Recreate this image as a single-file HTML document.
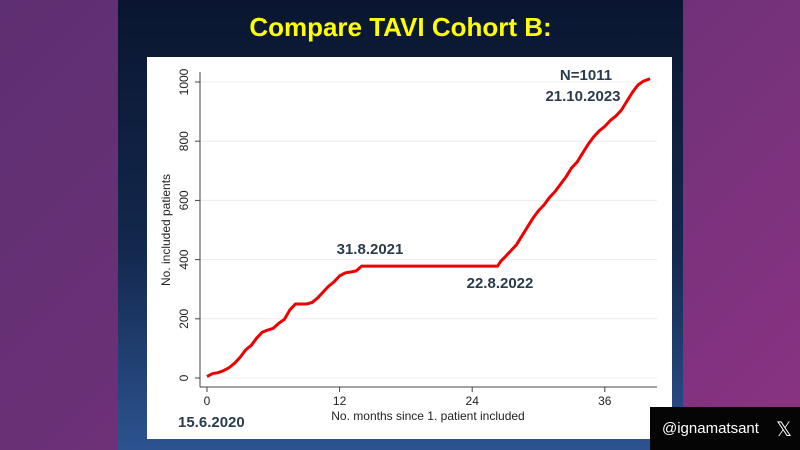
<!DOCTYPE html>
<html><head><meta charset="utf-8"><style>
body{margin:0;width:800px;height:450px;overflow:hidden;font-family:"Liberation Sans",sans-serif;}
#bg{position:absolute;left:0;top:0;width:800px;height:450px;background:linear-gradient(135deg,#5e2f72 0%,#6e3178 50%,#8a3383 100%);}
#navy{position:absolute;left:118px;top:0;width:565px;height:450px;background:linear-gradient(180deg,#0a1630 0%,#13284d 55%,#2c5390 100%);}
#title{position:absolute;left:118px;width:565px;top:12px;text-align:center;color:#ffff00;font-weight:bold;font-size:26px;}
#wm{position:absolute;left:650px;top:407px;width:150px;height:43px;background:#050505;color:#fff;font-size:15px;}
</style></head><body>
<div id="bg"></div>
<div id="navy"></div>
<div id="title">Compare TAVI Cohort B:</div>
<svg id="chart" width="800" height="450" style="position:absolute;left:0;top:0">
<rect x="147" y="57" width="525" height="382" fill="#fff"/>
<g id="grid"></g><g id="axes"></g><g id="series"></g>
<text x="370" y="254" text-anchor="middle" font-size="15" font-weight="bold" fill="#2a3b4e">31.8.2021</text>
<text x="500" y="288" text-anchor="middle" font-size="15" font-weight="bold" fill="#2a3b4e">22.8.2022</text>
<text x="586" y="80" text-anchor="middle" font-size="15" font-weight="bold" fill="#2a3b4e">N=1011</text>
<text x="583" y="101" text-anchor="middle" font-size="15" font-weight="bold" fill="#2a3b4e">21.10.2023</text>
<text x="178" y="427" font-size="15" font-weight="bold" fill="#2a3b4e">15.6.2020</text>
<text x="428" y="420" text-anchor="middle" font-size="12" fill="#222">No. months since 1. patient included</text>
<text transform="translate(170,230) rotate(-90)" text-anchor="middle" font-size="12" fill="#222">No. included patients</text>
</svg>
<div id="wm"><span style="position:absolute;left:12px;top:13px">@ignamatsant</span><span style="position:absolute;left:126px;top:10px;font-size:20px">𝕏</span></div>
<script>
const months=[0,0.5,1,1.5,2,2.5,3,3.5,4,4.5,5,5.5,6,6.5,7,7.5,8,8.5,9,9.5,10,10.5,11,11.5,12,12.5,13,13.5,14,20,26.3,26.6,27,27.5,28,28.5,29,29.5,30,30.5,31,31.5,32,32.5,33,33.5,34,34.5,35,35.5,36,36.5,37,37.5,38,38.5,39,39.5,40.1];
const patients=[5,15,18,25,35,50,70,95,110,135,155,162,168,185,198,230,250,250,250,255,270,290,310,325,345,355,358,362,378,378,378,395,410,430,450,480,510,540,565,585,610,630,655,680,710,730,760,790,815,835,850,870,885,905,935,965,990,1003,1011];
const xTicks=[0,12,24,36];
const yTicks=[0,200,400,600,800,1000];
const xs=m=>207+m*11.05, ys=v=>378-v*0.296;
const NS='http://www.w3.org/2000/svg';
function mk(t,a,p){const e=document.createElementNS(NS,t);for(const k in a)e.setAttribute(k,a[k]);p.appendChild(e);return e;}
const grid=document.getElementById('grid'),axes=document.getElementById('axes'),ser=document.getElementById('series');
yTicks.forEach(v=>{
 const g=mk('line',{x1:200,x2:657,y1:ys(v),y2:ys(v),stroke:'#ececec','stroke-width':1},grid);
 
 
 mk('line',{x1:195,x2:200,y1:ys(v),y2:ys(v),stroke:'#444'},axes);
 const t=mk('text',{transform:`translate(188,${ys(v)}) rotate(-90)`,'text-anchor':'middle','font-size':12,fill:'#222'},axes);
 t.textContent=v;
 
 
});
xTicks.forEach(m=>{
 mk('line',{x1:xs(m),x2:xs(m),y1:387,y2:392,stroke:'#444'},axes);
 const t=mk('text',{x:xs(m),y:405,'text-anchor':'middle','font-size':12,fill:'#222'},axes);
 t.textContent=m;
 
 
});
const ya=mk('line',{x1:200,x2:200,y1:72,y2:387,stroke:'#444'},axes);


const xa=mk('line',{x1:200,x2:657,y1:387,y2:387,stroke:'#444'},axes);


const pl=mk('polyline',{points:months.map((m,i)=>xs(m)+','+ys(patients[i])).join(' '),fill:'none',stroke:'#ee0000','stroke-width':3,'stroke-linejoin':'round'},ser);


</script>
</body></html>
